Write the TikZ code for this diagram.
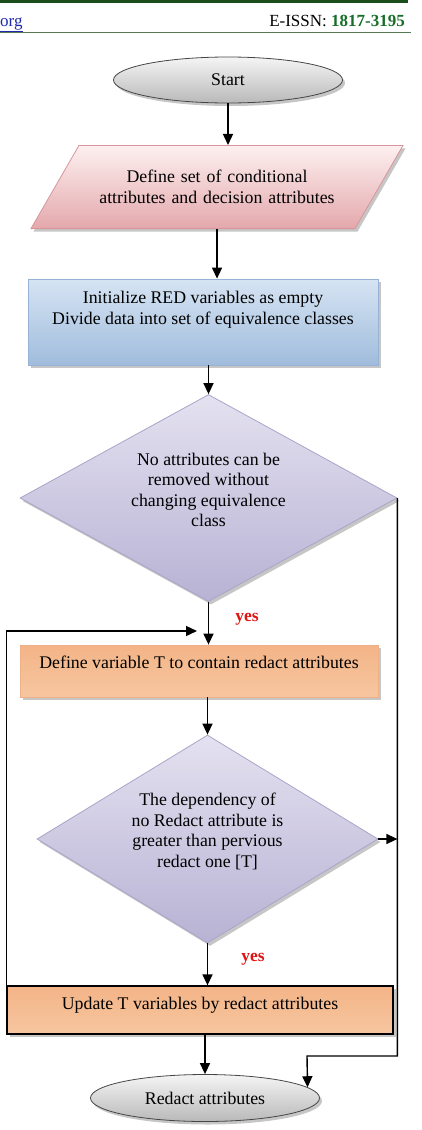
\documentclass[tikz,border=0pt]{standalone}
\usepackage{fontspec}
\setmainfont{Liberation Serif}
\usetikzlibrary{shapes.geometric,arrows.meta,shadows,calc}

\definecolor{hdrgreen}{RGB}{28,78,28}
\definecolor{issngreen}{RGB}{24,110,40}
\definecolor{orgblue}{RGB}{30,40,170}
\definecolor{yesred}{RGB}{225,20,20}
\definecolor{pinktop}{RGB}{253,240,240}
\definecolor{pinkbot}{RGB}{228,168,172}
\definecolor{pinkline}{RGB}{214,150,156}
\definecolor{bluetop}{RGB}{214,228,243}
\definecolor{bluebot}{RGB}{160,188,220}
\definecolor{blueline}{RGB}{150,178,212}
\definecolor{lavtop}{RGB}{228,225,240}
\definecolor{lavbot}{RGB}{184,178,212}
\definecolor{lavline}{RGB}{170,164,200}
\definecolor{orgtop}{RGB}{244,180,135}
\definecolor{orgmid}{RGB}{253,236,222}
\definecolor{orgbot}{RGB}{246,198,160}
\definecolor{orgline}{RGB}{238,176,136}

\tikzset{
  softshadow/.style={drop shadow={shadow xshift=2.5pt, shadow yshift=-3pt, fill=black!50, opacity=0.45}},
  box/.style={draw, font=\fontsize{17.8}{20.5}\selectfont, align=center, inner sep=2pt, line width=0.8pt, softshadow},
  term/.style={box, ellipse, minimum width=229pt, minimum height=46pt, draw=gray!55!black, top color=gray!8, bottom color=gray!55},
  io/.style={box, trapezium, trapezium left angle=60, trapezium right angle=120,
    text width=272pt, inner xsep=2pt, inner ysep=25pt, draw=pinkline, top color=pinktop, bottom color=pinkbot},
  initbox/.style={box, rectangle, minimum width=350pt, minimum height=86pt, draw=blueline, top color=bluetop, bottom color=bluebot},
  decision/.style={box, diamond, inner sep=0pt, aspect=1.8, draw=lavline, top color=lavtop, bottom color=lavbot},
  procbox/.style={box, rectangle, draw=orgline, top color=orgtop, middle color=orgmid, bottom color=orgbot},
  arrow/.style={-{Triangle[length=11pt,width=10pt]}, line width=1.4pt},
  yes/.style={font=\fontsize{17.5}{20}\selectfont\bfseries, text=yesred},
}

\begin{document}
\begin{tikzpicture}[x=1pt, y=-1pt]
\useasboundingbox (0,0) rectangle (422,1130);

% Page header
\draw[hdrgreen, line width=3pt] (0,1.5) -- (408,1.5);
\draw[hdrgreen!75, line width=0.8pt] (0,32.5) -- (411,32.5);
\node[anchor=base west, inner sep=0pt, font=\fontsize{17}{20}\selectfont, text=orgblue] (org) at (0,26) {\underline{org}};
\node[anchor=base east, inner sep=0pt, font=\fontsize{17}{20}\selectfont] (issn) at (405,26)
  {E-ISSN: \textbf{\color{issngreen}1817-3195}};

% Flow chart nodes
\node[term] (start) at (228,80) {Start};
\node[io] (define) at (217,187) {Define set of conditional\\attributes and decision attributes};
\node[initbox, text depth=28pt] (init) at (203,322) {Initialize RED variables as empty\\Divide data into set of equivalence classes};
\node[decision, text depth=16pt, minimum width=377pt, minimum height=207pt] (dec1) at (208.5,498)
  {No attributes can be\\removed without\\changing equivalence\\class};
\node[procbox, text depth=18pt, minimum width=358pt, minimum height=52pt] (defT) at (199,671) {Define variable T to contain redact attributes};
\node[decision, text depth=18pt, minimum width=341pt, minimum height=208pt] (dec2) at (207.5,839)
  {The dependency of\\no Redact attribute is\\greater than pervious\\redact one [T]};
\node[procbox, text depth=14pt, draw=black, line width=1.3pt, minimum width=386pt, minimum height=48pt] (update) at (200,1010)
  {Update T variables by redact attributes};
\node[term, minimum height=47pt] (redact) at (205,1098) {Redact attributes};

% Labels
\node[yes] (yes1) at (247,619) {yes};
\node[yes] (yes2) at (253,959) {yes};

% Connectors
\coordinate (ltip) at (197,631);
\coordinate (rjoin) at (307,1056);
\draw[arrow] (start.south) -- (start.south |- define.north);
\draw[arrow] (define.south) -- (define.south |- init.north);
\draw[arrow] (dec1.north |- init.south) -- (dec1.north);
\draw[arrow] (dec1.south) -- (dec1.south |- defT.north);
\draw[arrow] (dec2.north |- defT.south) -- (dec2.north);
\draw[arrow] (dec2.south) -- (dec2.south |- update.north);
\draw[arrow] (redact.north |- update.south) -- (redact.north);
\draw[arrow] (dec2.east) -- (dec2.east -| dec1.east);
\draw[arrow] (dec1.east) |- (rjoin) -- (redact.6);
\draw[arrow] (update.north west) |- (ltip);

\end{tikzpicture}
\end{document}
